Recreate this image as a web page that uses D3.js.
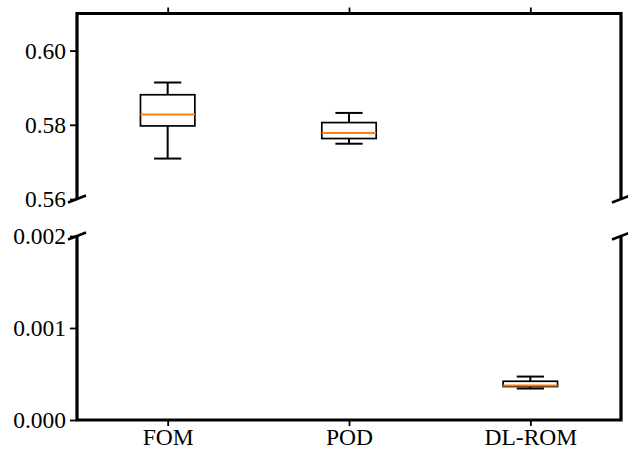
<!DOCTYPE html>
<html>
    <head>
        <meta charset="utf-8">
        <title></title>
        <script src="https://d3js.org/d3.v7.min.js"></script>
        <style>
            body { margin: 0; background: #fff; }
            svg { display: block; }
            text { font-family: "Liberation Serif", "DejaVu Serif", serif; font-size: 23.5px; fill: #000; }
        </style>
    </head>
    <body>
        <svg width="628" height="451"></svg>
        <script>
            // box stats
            var methods = ["FOM", "POD", "DL-ROM"];
            var whiskLow  = [0.5709, 0.5749, 0.000342];
            var q1        = [0.5797, 0.5763, 0.000364];
            var median    = [0.5828, 0.5778, 0.000374];
            var q3        = [0.5881, 0.5806, 0.000421];
            var whiskHigh = [0.5914, 0.5832, 0.000472];
            var topTicks = [0.56, 0.58, 0.60];
            var botTicks = [0.000, 0.001, 0.002];

            var svg = d3.select("svg");
            var left = 77, right = 621;

            var x = d3.scaleLinear().domain([0.5, 3.5]).range([left, right]);
            var yTop = d3.scaleLinear().domain([0.56, 0.61]).range([199, 13.5]);
            var yBot = d3.scaleLinear().domain([0, 0.002]).range([420, 236]);

            var boxes = methods.map(function(m, i) {
                return {name: m, pos: i + 1, lo: whiskLow[i], q1: q1[i], med: median[i], q3: q3[i], hi: whiskHigh[i]};
            });

            function drawBoxes(g, y, data) {
                var bw = x(1.3) - x(1);   // box width 0.3
                var cw = bw / 2;          // caps half of it
                var b = g.selectAll("g.box").data(data).enter().append("g").attr("class", "box");
                b.append("line") // lower whisker
                    .attr("x1", function(d){ return x(d.pos); }).attr("x2", function(d){ return x(d.pos); })
                    .attr("y1", function(d){ return y(d.lo); }).attr("y2", function(d){ return y(d.q1); })
                    .attr("stroke", "#000").attr("stroke-width", 2);
                b.append("line")
                    .attr("x1", function(d){ return x(d.pos); }).attr("x2", function(d){ return x(d.pos); })
                    .attr("y1", function(d){ return y(d.q3); }).attr("y2", function(d){ return y(d.hi); })
                    .attr("stroke", "#000").attr("stroke-width", 2);
                b.append("line")
                    .attr("x1", function(d){ return x(d.pos) - cw / 2; }).attr("x2", function(d){ return x(d.pos) + cw / 2; })
                    .attr("y1", function(d){ return y(d.lo); }).attr("y2", function(d){ return y(d.lo); })
                    .attr("stroke", "#000").attr("stroke-width", 2);
                b.append("line")
                    .attr("x1", function(d){ return x(d.pos) - cw / 2; }).attr("x2", function(d){ return x(d.pos) + cw / 2; })
                    .attr("y1", function(d){ return y(d.hi); }).attr("y2", function(d){ return y(d.hi); })
                    .attr("stroke", "#000").attr("stroke-width", 2);
                b.append("rect")
                    .attr("x", function(d){ return x(d.pos) - bw / 2; })
                    .attr("width", bw)
                    .attr("y", function(d){ return y(d.q3); })
                    .attr("height", function(d){ return y(d.q1) - y(d.q3); })
                    .attr("fill", "#fff").attr("stroke", "#000").attr("stroke-width", 1.7);
                b.append("line")
                    .attr("x1", function(d){ return x(d.pos) - bw / 2; }).attr("x2", function(d){ return x(d.pos) + bw / 2; })
                    .attr("y1", function(d){ return y(d.med); }).attr("y2", function(d){ return y(d.med); })
                    .attr("stroke", "#ff7f0e").attr("stroke-width", 2);
            }

            var gTop = svg.append("g");
            var gBot = svg.append("g");
            drawBoxes(gTop, yTop, boxes.filter(function(d){ return d.med > 0.1; }));
            drawBoxes(gBot, yBot, boxes.filter(function(d){ return d.med < 0.1; }));

            // axes
            function yAxis(g, y, ticks, fmt) {
                var a = g.append("g").attr("transform", "translate(" + left + ",0)")
                    .call(d3.axisLeft(y).tickValues(ticks).tickFormat(d3.format(fmt)).tickSize(7).tickPadding(4));
                a.select(".domain").remove();
                a.selectAll(".tick line").attr("stroke", "#000").attr("stroke-width", 1.8);
                a.selectAll(".tick text").attr("font-family", null).attr("font-size", null);
            }
            yAxis(gTop, yTop, topTicks, ".2f");
            yAxis(gBot, yBot, botTicks, ".3f");

            var xt = gTop.append("g").attr("transform", "translate(0," + yTop.range()[1] + ")")
                .call(d3.axisTop(x).tickValues([1, 2, 3]).tickFormat("").tickSize(6));
            xt.select(".domain").remove();
            xt.selectAll(".tick line").attr("stroke", "#000").attr("stroke-width", 1.8);

            var xb = gBot.append("g").attr("transform", "translate(0," + yBot.range()[0] + ")")
                .call(d3.axisBottom(x).tickValues([1, 2, 3]).tickFormat(function(d){ return methods[d - 1]; }).tickSize(6).tickPadding(2));
            xb.select(".domain").remove();
            xb.selectAll(".tick line").attr("stroke", "#000").attr("stroke-width", 1.8);
            xb.selectAll(".tick text").attr("font-family", null).attr("font-size", null);

            // spines
            var sw = 3.2;
            gTop.append("path")
                .attr("d", "M" + left + "," + yTop.range()[0] + "V" + yTop.range()[1] + "H" + right + "V" + yTop.range()[0])
                .attr("fill", "none").attr("stroke", "#000").attr("stroke-width", sw).attr("stroke-linejoin", "miter");
            gBot.append("path")
                .attr("d", "M" + left + "," + yBot.range()[1] + "V" + yBot.range()[0] + "H" + right + "V" + yBot.range()[1])
                .attr("fill", "none").attr("stroke", "#000").attr("stroke-width", sw).attr("stroke-linejoin", "miter");

            // break marks
            [yTop.range()[0], yBot.range()[1]].forEach(function(yy) {
                [left, right].forEach(function(xx) {
                    svg.append("line")
                        .attr("x1", xx - 9).attr("y1", yy + 3.5)
                        .attr("x2", xx + 9).attr("y2", yy - 3.5)
                        .attr("stroke", "#000").attr("stroke-width", 2.6);
                });
            });
        </script>
    </body>
</html>
